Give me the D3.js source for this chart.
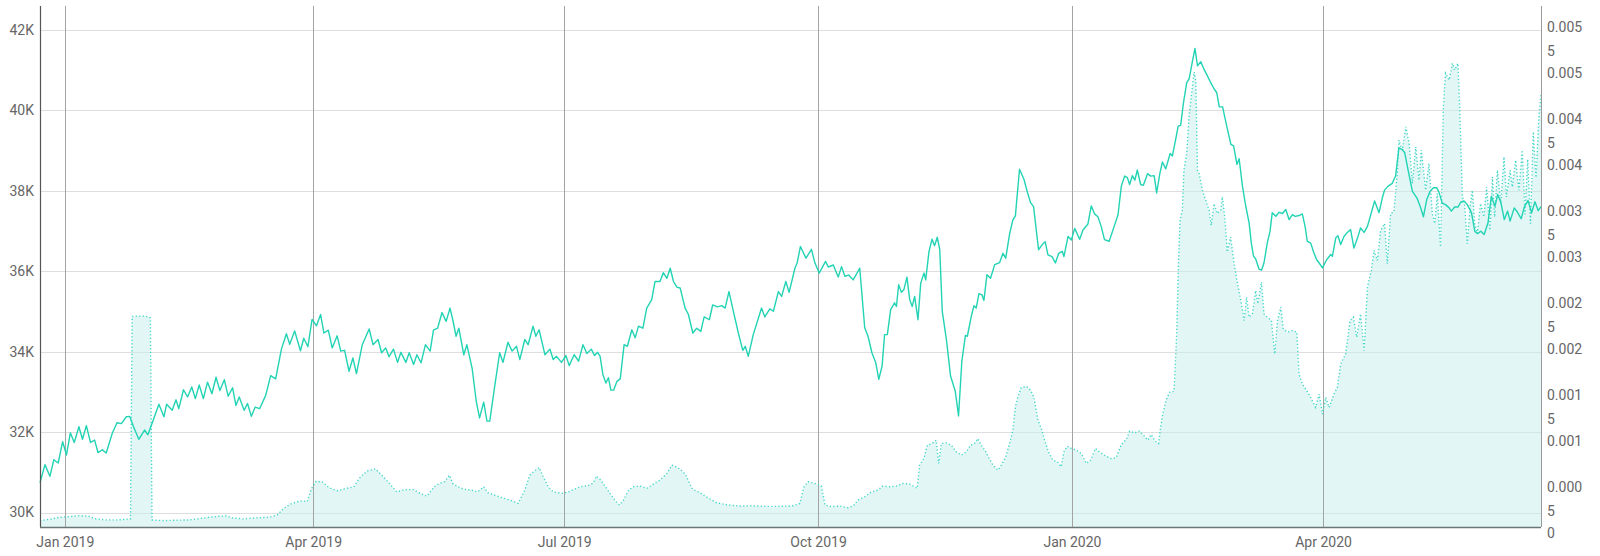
<!DOCTYPE html>
<html><head><meta charset="utf-8">
<script src="https://cdn.jsdelivr.net/npm/d3@7"></script>
<style>
body{margin:0;background:#fff}
svg{display:block}
text{font-family:Roboto,"Noto Sans",sans-serif}
</style>
</head><body>
<svg id="chart" width="1600" height="556"></svg>
<script>
// ---------- data ----------
const baseDate = "2019-01-01";            // day 0 of the offsets below
const xDomainDays = [-9, 535];            // first / last day shown
const xTickDates = ["2019-01-01","2019-04-01","2019-07-01","2019-10-01","2020-01-01","2020-04-01"];
const leftTicks = [30000,32000,34000,36000,38000,40000,42000];
const leftDomain = [29640, 42586];
const rightTicks = [0,0.0005,0.001,0.0015,0.002,0.0025,0.003,0.0035,0.004,0.0045,0.005,0.0055];
const rightDomain = [0, 0.005667];

// solid series: [day offset, value]
const priceSeries = [
[-9.0,30740],[-7.2,31190],[-5.4,30900],[-4.0,31310],[-2.4,31230],[-0.8,31760],[0.6,31430],[2.0,31980],[3.4,31740],[5.1,32130],[6.4,31820],[7.8,32160],[9.3,31740],[10.8,31800],[12.0,31490],[13.6,31560],[15.0,31480],[17.2,31970],[18.9,32230],[20.5,32210],[22.3,32380],[23.5,32390],[24.9,32130],[26.8,31820],[28.9,32050],[30.1,31930],[31.6,32210],[34.1,32690],[35.9,32380],[36.9,32690],[38.9,32540],[40.3,32800],[41.3,32580],[43.0,33050],[44.5,32870],[46.0,33120],[47.3,32830],[48.7,33170],[50.2,32830],[51.7,33240],[53.3,32950],[54.8,33360],[56.2,33030],[57.8,33300],[59.2,32890],[60.8,33100],[62.0,32660],[63.2,32870],[65.0,32540],[66.2,32710],[67.6,32390],[69.0,32620],[70.6,32580],[72.8,32910],[74.6,33400],[76.4,33320],[78.5,34060],[80.3,34440],[81.5,34180],[83.3,34510],[85.4,34020],[86.6,34330],[88.1,34120],[89.6,34800],
[91.2,34640],[92.7,34920],[93.9,34460],[95.5,34530],[96.9,34090],[98.7,34390],[100.0,34010],[101.4,34030],[103.0,33510],[104.4,33840],[105.7,33450],[107.8,34170],[110.3,34560],[111.7,34170],[113.5,34300],[114.8,33970],[116.3,34090],[117.5,33870],[119.1,34060],[120.6,33730],[121.8,33980],[123.6,33730],[124.8,33970],[126.4,33680],[127.6,33920],[129.1,33720],[130.7,34170],[132.4,34010],[133.6,34530],[135.1,34580],[136.7,34970],[138.2,34750],[139.6,35080],[140.6,34790],[141.8,34380],[142.8,34580],[144.6,33920],[145.7,34170],[147.6,33590],[149.1,32770],[150.3,32350],[151.8,32740],[153.0,32270],[154.0,32270],[155.8,33140],[157.6,33970],[158.8,33730],[160.6,34230],[162.1,34010],[163.7,34130],[164.9,33800],[166.7,34300],[167.9,34170],[169.7,34630],[170.7,34380],[171.9,34540],[174.0,33920],[175.8,34060],[177.0,33800],[178.2,33880],[180.0,33730],[181.6,33900],[182.8,33650],
[184.6,33920],[186.2,33760],[187.8,34170],[189.2,33950],[190.8,34060],[192.0,33900],[193.1,33980],[194.0,33880],[195.0,33430],[196.1,33220],[197.0,33350],[197.9,33040],[198.9,33040],[200.1,33260],[201.3,33320],[202.7,34170],[203.9,34130],[205.5,34540],[206.7,34340],[207.9,34630],[209.5,34580],[210.9,35080],[212.7,35290],[213.9,35740],[215.7,35740],[216.9,35960],[218.2,35820],[219.4,36070],[220.6,35740],[221.8,35600],[223.0,35580],[224.8,35080],[226.0,34920],[227.6,34460],[229.0,34580],[230.5,34500],[231.7,34860],[233.6,34790],[234.8,35160],[236.5,35110],[238.1,35140],[239.3,35080],[240.7,35490],[242.3,35000],[244.1,34460],[245.7,34030],[246.6,34130],[247.7,33880],[249.5,34420],[251.0,34750],[252.5,35080],[253.7,34860],[255.5,35060],[256.8,35000],[258.6,35490],[259.8,35370],[261.3,35740],[262.5,35470],[264.6,36070],[265.4,36200],[266.6,36610],[268.6,36320],[270.6,36540],[271.8,36210],[273.4,35950],[275.7,36240],[276.7,36100],[278.5,36150],[280.3,35850],[281.5,36110],[282.7,35870],
[284.1,35900],[285.7,35780],[288.1,36070],[289.9,34590],[291.1,34380],[292.5,33970],[293.9,33720],[295.0,33310],[296.2,33640],[297.1,34420],[298.1,34420],[299.3,35040],[300.7,35210],[301.4,35120],[302.2,35660],[303.2,35470],[304.1,35540],[305.2,35850],[306.2,35290],[307.1,35120],[308.0,35370],[309.2,34790],[310.2,35700],[311.4,35950],[312.0,35780],[313.2,36490],[314.3,36790],[315.2,36630],[316.2,36840],[317.1,36530],[318.0,35000],[319.5,34300],[321.0,33390],[322.7,33020],[323.9,32400],[325.1,33760],[326.4,34400],[327.1,34380],[328.5,34870],[329.5,35140],[330.3,35080],[331.3,35440],[332.4,35410],[333.1,35270],[334.2,35910],[335.5,35820],[337.0,36160],[338.8,36210],[340.0,36440],[341.0,36320],[342.4,36920],[343.6,37270],[344.5,37370],[346.0,38530],[347.6,38280],[348.8,37970],[350.0,37700],[351.1,37600],[352.9,36530],[354.5,36680],[355.3,36730],[356.3,36400],[357.8,36360],[359.0,36200],[360.2,36440],[361.5,36490],[362.1,36360],[363.6,36860],[364.8,36770],[366.0,37060],[367.8,36790],[369.0,37020],[370.8,37170],[372.0,37620],[373.2,37420],[374.4,37350],[375.6,37110],[376.8,36780],
[378.5,36740],[380.3,37110],[381.7,37400],[382.9,38110],[384.1,38360],[385.1,38320],[385.9,38150],[386.9,38370],[387.8,38260],[388.7,38510],[389.9,38150],[390.9,38130],[392.4,38420],[393.6,38360],[394.8,38370],[395.7,37940],[396.9,38440],[397.8,38710],[399.0,38540],[400.6,38920],[401.4,38860],[402.6,39270],[403.5,39600],[404.4,39620],[405.4,40170],[406.6,40680],[407.5,40780],[408.7,41220],[409.6,41530],[410.5,41100],[411.7,41200],[412.9,41010],[414.1,40850],[415.3,40680],[416.5,40530],[417.5,40430],[418.4,40080],[419.6,40080],[421.1,39600],[422.6,39150],[423.6,39110],[424.8,38650],[425.6,38790],[426.8,38110],[428.0,37610],[429.2,37200],[430.0,36700],[430.8,36370],[431.6,36300],[432.8,36050],[433.7,36020],[434.6,36200],[435.8,36700],[436.8,36990],[437.6,37450],[438.9,37360],[440.1,37460],[441.3,37430],[442.5,37530],[443.7,37280],[444.9,37400],[445.9,37360],[447.3,37380],[448.5,37420],[449.5,37110],[450.3,36740],[451.5,36700],[452.7,36450],[453.7,36280],[454.6,36200],[455.8,36080],[457.3,36280],[458.8,36410],[459.4,36370],[460.6,36820],[461.4,36880],[462.4,36660],[463.6,36860],[464.8,36960],[466.0,37030],[467.2,36570],[468.4,36800],[469.6,37070],[470.9,36960],[472.1,37110],[473.3,37400],[474.7,37740],[476.3,37450],[477.5,37820],[478.3,38010],[479.6,38110],[481.1,38180],[482.3,38360],[483.5,39060],[484.7,39020],[485.6,38940],[486.8,38520],[488.4,37980],[490.0,37820],[491.2,37610],[492.4,37350],[493.6,37780],[494.8,37980],[496.0,38070],[497.2,38070],[498.0,37960],[499.2,37690],[500.4,37650],[501.7,37570],[502.5,37490],[503.7,37590],[504.9,37590],[505.9,37710],[507.1,37740],[508.3,37650],[509.8,37450],[511.0,36990],[512.0,36930],[513.2,36990],[514.4,36910],[515.8,37200],[517.0,37860],[518.3,37610],[519.3,37900],[520.5,37690],[521.7,37280],[522.9,37490],[523.8,37240],[525.3,37570],[526.5,37460],[527.8,37300],[529.0,37600],[530.3,37750],[531.6,37450],[532.8,37720],[534.0,37500],[535.0,37600]
];

// dotted area series (right axis): [day offset, value]
const ratioSeries = [
[-9.0,0.000070],[-5.4,0.000084],[-1.8,0.000106],[1.8,0.000113],[4.8,0.000124],[8.4,0.000120],[10.8,0.000091],[15.0,0.000077],[19.3,0.000077],[23.8,0.000088],[24.4,0.002290],[29.0,0.002295],[31.0,0.002275],[31.6,0.000077],[35.5,0.000070],[40.3,0.000074],[45.1,0.000077],[48.7,0.000091],[52.3,0.000106],[56.0,0.000117],[58.4,0.000120],[60.8,0.000099],[64.4,0.000088],[69.2,0.000099],[74.0,0.000106],[77.0,0.000131],[79.4,0.000203],[81.8,0.000249],[84.2,0.000275],[86.0,0.000285],[87.8,0.000275],[89.4,0.000418],[91.1,0.000497],[93.3,0.000490],[95.7,0.000429],[98.7,0.000393],[101.7,0.000418],[104.7,0.000436],[107.1,0.000544],[109.5,0.000608],[112.5,0.000633],[114.9,0.000562],[117.9,0.000465],[120.3,0.000382],[123.3,0.000407],[126.4,0.000407],[128.8,0.000364],[131.2,0.000336],
[133.9,0.000438],[135.8,0.000474],[137.6,0.000492],[139.4,0.000564],[140.6,0.000474],[142.4,0.000438],[144.9,0.000409],[147.3,0.000401],[149.7,0.000383],[151.8,0.000438],[153.3,0.000373],[155.8,0.000347],[158.2,0.000322],[161.2,0.000293],[164.3,0.000257],[166.7,0.000401],[168.5,0.000564],[170.3,0.000611],[171.9,0.000647],[173.4,0.000546],[175.2,0.000438],[177.0,0.000383],[180.0,0.000365],[182.5,0.000383],
[186.8,0.000438],[189.8,0.000452],[191.6,0.000481],[192.6,0.000553],[194.0,0.000517],[195.8,0.000445],[197.6,0.000365],[199.5,0.000286],[201.0,0.000239],[202.5,0.000293],[204.3,0.000401],[206.1,0.000438],[208.5,0.000445],[210.9,0.000420],[213.3,0.000467],[215.7,0.000510],[218.2,0.000582],[220.0,0.000673],[221.5,0.000655],[223.2,0.000626],[225.1,0.000564],[226.4,0.000474],[227.6,0.000409],[230.2,0.000373],[233.2,0.000315],[236.2,0.000264],[239.9,0.000242],[244.7,0.000228],[249.5,0.000231],[254.3,0.000224],[259.2,0.000224],[264.0,0.000231],[266.4,0.000257],[267.9,0.000438],[269.4,0.000492],[271.8,0.000474],[274.2,0.000445],[275.5,0.000239],[277.9,0.000221],[280.9,0.000228],
[283.8,0.000210],[285.7,0.000228],[287.5,0.000293],[289.9,0.000329],[292.3,0.000383],[294.7,0.000401],[296.5,0.000445],[298.9,0.000438],[301.4,0.000445],[303.8,0.000474],[306.2,0.000467],[308.9,0.000420],[309.8,0.000673],[311.3,0.000745],[312.6,0.000890],[314.3,0.000908],[315.8,0.000944],[316.7,0.000691],[317.7,0.000908],[319.5,0.000915],[321.3,0.000890],[323.1,0.000817],[324.9,0.000781],[326.7,0.000817],[328.3,0.000890],[329.7,0.000908],[330.9,0.000962],[332.1,0.000890],[333.6,0.000828],[334.8,0.000756],[336.4,0.000673],[338.2,0.000618],[339.4,0.000673],[340.8,0.000745],[342.4,0.000908],[343.6,0.001053],[344.5,0.001306],[345.4,0.001414],[346.6,0.001516],[348.5,0.001530],[350.0,0.001487],[351.2,0.001414],[352.7,0.001161],[353.9,0.001071],[355.1,0.000944],[356.5,0.000817],[358.1,0.000727],[359.7,0.000709],[361.1,0.000655],[362.1,0.000817],[363.3,0.000879],[364.8,0.000854],[366.6,0.000836],[368.4,0.000799],[370.2,0.000691],[371.8,0.000727],[373.5,0.000854],[375.0,0.000817],[376.8,0.000781],[379.0,0.000745],
[381.0,0.000752],[382.9,0.000897],[384.7,0.000951],[385.9,0.001042],[387.7,0.001024],[389.5,0.001042],[391.3,0.000987],[392.5,0.000944],[393.7,0.001006],[395.2,0.000933],[396.4,0.000908],[397.1,0.001078],[398.0,0.001241],[399.2,0.001385],[400.4,0.001465],[402.0,0.001476],
[403.0,0.002137],[403.6,0.002864],[404.2,0.003336],[405.0,0.003445],[405.6,0.003881],[406.6,0.004063],[407.4,0.004450],[408.3,0.004700],[409.3,0.004950],[409.9,0.004850],[410.5,0.003881],[411.1,0.003845],[412.3,0.003663],[413.5,0.003554],[414.7,0.003445],[415.5,0.003281],[416.5,0.003518],[417.7,0.003409],[418.9,0.003445],[419.5,0.003590],[420.4,0.003372],[421.3,0.002991],[422.5,0.003154],[423.8,0.002864],[425.0,0.002646],[426.2,0.002464],[427.4,0.002246],[428.3,0.002500],[429.2,0.002282],[430.4,0.002318],[431.6,0.002573],[432.4,0.002428],[433.7,0.002664],[434.6,0.002318],[435.8,0.002282],[437.3,0.002246],[438.5,0.001882],[439.5,0.002246],[440.7,0.002391],[441.6,0.002155],[443.1,0.002119],[444.9,0.002137],[446.5,0.002119],[447.3,0.001664],[448.5,0.001555],[450.1,0.001483],[451.5,0.001410],[453.3,0.001301],[454.6,0.001446],[455.8,0.001228],[457.0,0.001410],[458.2,0.001301],[460.0,0.001446],[461.2,0.001519],[462.4,0.001773],[464.2,0.001882],[465.8,0.002246],[467.0,0.002282],[468.2,0.002064],[469.6,0.002318],[470.9,0.001919],[472.1,0.002609],[473.5,0.002791],[474.5,0.003009],[475.7,0.002900],[476.9,0.003227],[478.3,0.003300],[479.3,0.002864],[480.5,0.003409],[481.7,0.003427],[482.9,0.003845],[483.5,0.004208],[484.7,0.004099],[486.0,0.004353],[487.2,0.004172],[488.4,0.003736],[489.6,0.004136],[490.8,0.003772],[491.6,0.004099],[493.2,0.003663],[494.4,0.003954],[495.6,0.003409],[496.5,0.003300],[497.4,0.003627],[498.6,0.003045],[499.6,0.004572],[500.4,0.004935],[501.7,0.004862],[502.9,0.005044],[503.7,0.004971],[504.9,0.005044],[505.6,0.004499],[506.5,0.003590],[507.3,0.003518],[508.3,0.003082],[509.3,0.003481],[510.1,0.003663],[511.0,0.003300],[511.9,0.003191],[513.1,0.003518],[514.3,0.003372],[515.3,0.003699],[516.5,0.003227],[517.4,0.003808],[518.2,0.003372],[519.2,0.003881],[520.4,0.003518],[521.6,0.004026],[522.5,0.003590],[523.8,0.003881],[524.6,0.003699],[525.8,0.003990],[527.0,0.003663],[528.2,0.004100],[529.2,0.003400],[530.2,0.004000],[531.2,0.003300],[532.2,0.004300],[533.2,0.003800],[534.2,0.004450],[535.0,0.004700]
];

// ---------- drawing ----------
const W = 1600, H = 556;
const m = {left:40, right:59, top:6, bottom:29};
const parse = d3.timeParse("%Y-%m-%d");
const base = parse(baseDate);
const dayToDate = d => new Date(base.getTime() + d * 86400000);

const svg = d3.select("#chart");
const x = d3.scaleTime().domain(xDomainDays.map(dayToDate)).range([m.left, W - m.right]);
const yL = d3.scaleLinear().domain(leftDomain).range([H - m.bottom, m.top]);
const yR = d3.scaleLinear().domain(rightDomain).range([H - m.bottom, m.top]);
const x0 = m.left, x1 = W - m.right, yb = H - m.bottom, yt = m.top;
const tickDates = xTickDates.map(parse);

// horizontal grid
svg.append("g").selectAll("line").data(leftTicks).join("line")
  .attr("x1", x0).attr("x2", x1)
  .attr("y1", d => Math.round(yL(d)) + 0.5).attr("y2", d => Math.round(yL(d)) + 0.5)
  .attr("stroke", "#dedede").attr("stroke-width", 1);

// area under the dotted series
const area = d3.area().x(d => x(dayToDate(d[0]))).y0(yR(0)).y1(d => yR(d[1]));
svg.append("path").datum(ratioSeries).attr("d", area)
  .attr("fill", "#c4eeeb").attr("fill-opacity", 0.5);

// vertical grid (quarter ticks)
svg.append("g").selectAll("line").data(tickDates).join("line")
  .attr("x1", d => Math.round(x(d)) + 0.5).attr("x2", d => Math.round(x(d)) + 0.5)
  .attr("y1", yt).attr("y2", yb)
  .attr("stroke", "#a3a3a3").attr("stroke-width", 1);

const ratioLine = d3.line().x(d => x(dayToDate(d[0]))).y(d => yR(d[1]));
svg.append("path").datum(ratioSeries).attr("d", ratioLine)
  .attr("fill", "none").attr("stroke", "#3fd6c6").attr("stroke-width", 1.4)
  .attr("stroke-dasharray", "1.2 2.3");

const priceLine = d3.line().x(d => x(dayToDate(d[0]))).y(d => yL(d[1]));
svg.append("path").datum(priceSeries).attr("d", priceLine)
  .attr("fill", "none").attr("stroke", "#22d3b4").attr("stroke-width", 1.4)
  .attr("stroke-linejoin", "round");

// left axis
const gL = svg.append("g").attr("transform", `translate(${x0},0)`)
  .call(d3.axisLeft(yL).tickValues(leftTicks).tickFormat(d => (d / 1000) + "K").tickSize(0).tickPadding(6));
gL.select(".domain").remove();
gL.selectAll("text").attr("fill", "#666").style("font-size", "14px");
svg.append("line").attr("x1", x0 + 0.5).attr("x2", x0 + 0.5).attr("y1", yt).attr("y2", yb)
  .attr("stroke", "#555").attr("stroke-width", 1.2);

// bottom axis
const gB = svg.append("g").attr("transform", `translate(0,${yb})`)
  .call(d3.axisBottom(x).tickValues(tickDates).tickFormat(d3.timeFormat("%b %Y")).tickSize(0).tickPadding(10));
gB.select(".domain").remove();
gB.selectAll("text").attr("fill", "#666").style("font-size", "14px");
svg.append("line").attr("x1", x0).attr("x2", x1).attr("y1", yb + 0.5).attr("y2", yb + 0.5)
  .attr("stroke", "#6b7777").attr("stroke-width", 1.5);

// right axis
svg.append("line").attr("x1", x1 + 0.5).attr("x2", x1 + 0.5).attr("y1", yt).attr("y2", yb)
  .attr("stroke", "#9a9a9a").attr("stroke-width", 1);
const rLabels = svg.append("g").selectAll("text").data(rightTicks).join("text")
  .attr("x", x1 + 6).attr("y", d => yR(d) + 6)
  .attr("fill", "#666").style("font-size", "14px");
rLabels.each(function(d) {
  const s = d === 0 ? "0" : String(+d.toFixed(4));
  const parts = s.length > 5 ? [s.slice(0, 5), s.slice(5)] : [s];
  const t = d3.select(this);
  parts.forEach((p, i) => {
    t.append("tspan").attr("x", x1 + 6).attr("dy", i === 0 ? "0.35em" : "24px").text(p);
  });
});
</script>
</body></html>
